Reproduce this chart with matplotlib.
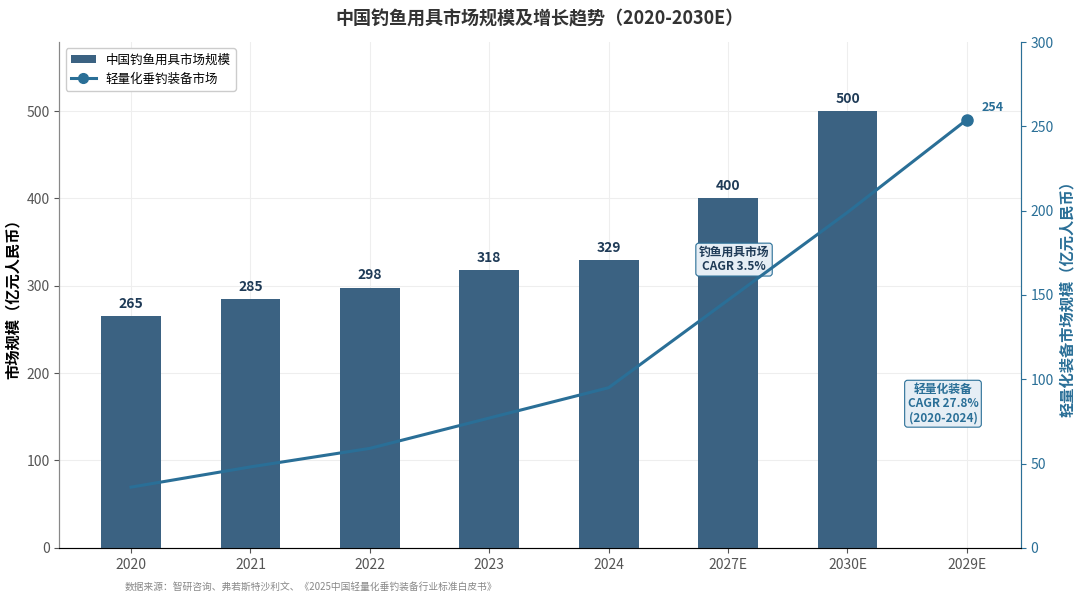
import matplotlib.pyplot as plt
import numpy as np

plt.rcParams['font.family'] = ['Noto Sans CJK SC', 'DejaVu Sans']

years = ["2020", "2021", "2022", "2023", "2024", "2027E", "2030E", "2029E"]
market = [265, 285, 298, 318, 329, 400, 500]
light = [36, 48, 59, 77, 95, 147, 199, 254]

BAR = "#3b6282"
LINE = "#2a6f97"

fig, ax = plt.subplots(figsize=(10.8, 6.02), dpi=100)
x = np.arange(len(years))
bars = ax.bar(x[:len(market)], market, width=0.5, color=BAR, label="中国钓鱼用具市场规模", zorder=2)
for xi, v in zip(x, market):
    ax.text(xi, v + 6, str(v), ha="center", va="bottom", fontsize=10, fontweight="bold", color="#1f3b57")

ax.set_ylim(0, 579)
ax.set_xlim(-0.6, 7.45)
ax.set_xticks(x)
ax.set_xticklabels(years)
ax.set_ylabel("市场规模（亿元人民币）", fontsize=11, fontweight="bold")
ax.grid(True, color="#eeeeee", linewidth=0.8, zorder=0)
ax.set_axisbelow(True)
ax.spines["top"].set_visible(False)
for s in ("left", "bottom", "right"):
    ax.spines[s].set_color("#888888")
ax.tick_params(colors="#555555", labelsize=10)

ax2 = ax.twinx()
ln, = ax2.plot(x, light, color=LINE, linewidth=2.2, marker="o", markersize=0, label="轻量化垂钓装备市场")
ax2.plot(x[-1], light[-1], "o", color=LINE, markersize=8)
ax2.text(x[-1] + 0.12, light[-1] + 5, str(light[-1]), fontsize=9, fontweight="bold", color=LINE)
ax2.set_ylim(0, 300)
ax2.set_ylabel("轻量化装备市场规模（亿元人民币）", fontsize=11, fontweight="bold", color=LINE)
ax2.tick_params(axis="y", colors=LINE, labelsize=10)
ax2.spines["top"].set_visible(False)
ax2.spines["right"].set_color(LINE)
ax2.spines["left"].set_color("#888888")

box = dict(boxstyle="round,pad=0.25", fc="#e6eef5", ec=LINE, lw=0.8)
ax.text(5.05, 330, "钓鱼用具市场\nCAGR 3.5%", fontsize=8.5, fontweight="bold", color="#1f3b57",
        ha="center", va="center", bbox=box, linespacing=1.1)
ax.text(6.8, 165, "轻量化装备\nCAGR 27.8%\n(2020-2024)", fontsize=8.5, fontweight="bold", color=LINE,
        ha="center", va="center", bbox=box, linespacing=1.1)

h = [bars, plt.Line2D([], [], color=LINE, lw=2.2, marker="o", markersize=7)]
ax.legend(h, ["中国钓鱼用具市场规模", "轻量化垂钓装备市场"], loc="upper left", fontsize=9, framealpha=1)

fig.suptitle("中国钓鱼用具市场规模及增长趋势（2020-2030E）", fontsize=13, fontweight="bold", y=0.985, color="#333333")
fig.text(0.115, 0.02, "数据来源：智研咨询、弗若斯特沙利文、《2025中国轻量化垂钓装备行业标准白皮书》", fontsize=7, color="#888888")
fig.subplots_adjust(left=0.055, right=0.945, top=0.93, bottom=0.09)
fig.savefig("out.png")
